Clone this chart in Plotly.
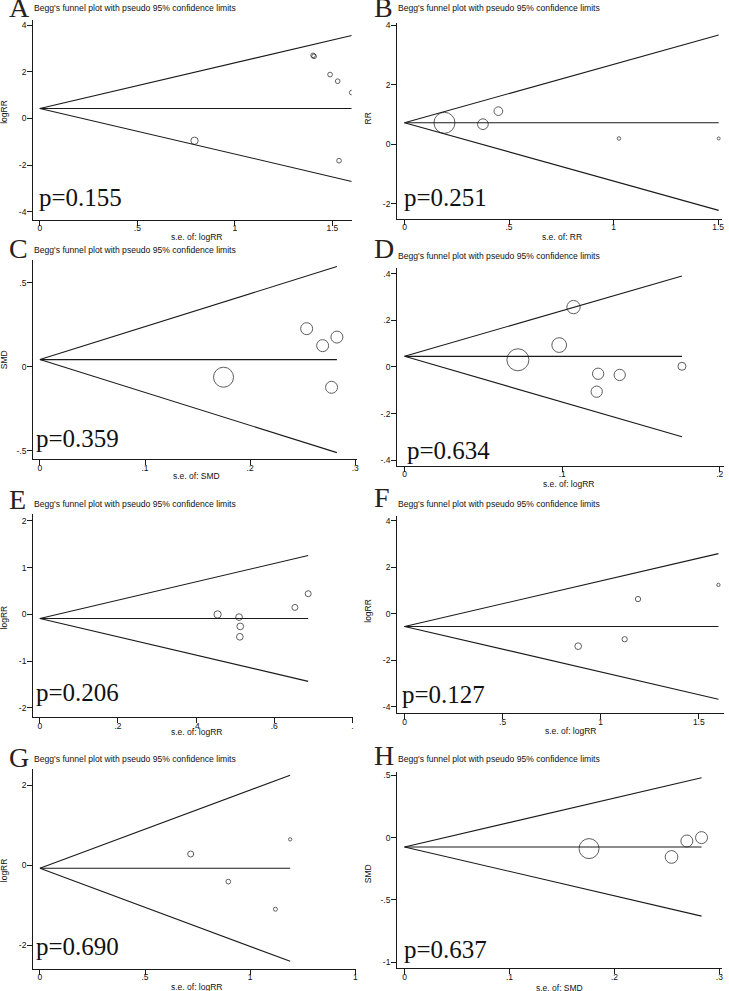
import plotly.graph_objects as go

W, H = 729, 991

# ---------------- data ----------------
panel_letters = ["A", "B", "C", "D", "E", "F", "G", "H"]
p_values = ["p=0.155", "p=0.251", "p=0.359", "p=0.634", "p=0.206", "p=0.127", "p=0.690", "p=0.637"]
y_titles = ["logRR", "RR", "SMD", "", "logRR", "logRR", "logRR", "SMD"]
x_titles = ["s.e. of: logRR", "s.e. of: RR", "s.e. of: SMD", "s.e. of: logRR",
            "s.e. of: logRR", "s.e. of: logRR", "s.e. of: logRR", "s.e. of: SMD"]

# pooled estimates (funnel centre)
pooled = [0.43, 0.73, 0.044, 0.0457, -0.086, -0.55, -0.075, -0.0747]

se_A = [1.401, 1.406, 1.488, 1.527, 1.599, 0.793, 1.534]
est_A = [2.71, 2.67, 1.886, 1.60, 1.114, -0.957, -1.814]
w_A = [4.7, 4.7, 4.7, 4.7, 4.7, 7.3, 4.7]

se_B = [0.191, 0.375, 0.449, 1.026, 1.503]
est_B = [0.726, 0.68, 1.117, 0.20, 0.20]
w_B = [21, 10.7, 8.7, 3.5, 3.0]

se_C = [0.1747, 0.2538, 0.269, 0.2826, 0.2775]
est_C = [-0.061, 0.228, 0.127, 0.178, -0.121]
w_C = [20, 12, 12, 12, 12]

se_D = [0.0719, 0.0981, 0.1072, 0.1228, 0.1219, 0.1365, 0.176]
est_D = [0.031, 0.094, 0.257, -0.029, -0.106, -0.034, 0.003]
w_D = [22, 14.7, 13.3, 11.3, 11.3, 11.3, 8]

se_E = [0.455, 0.51, 0.513, 0.512, 0.653, 0.687]
est_E = [0.0, -0.057, -0.257, -0.479, 0.15, 0.443]
w_E = [7.3, 6.7, 6.7, 6.7, 6.0, 6.0]

se_F = [0.885, 1.122, 1.19, 1.60]
est_F = [-1.40, -1.10, 0.63, 1.24]
w_F = [6.7, 5.3, 5.3, 3.3]

se_G = [0.717, 0.896, 1.12, 1.19]
est_G = [0.283, -0.408, -1.10, 0.65]
w_G = [6.0, 4.7, 4.0, 3.3]

se_H = [0.1758, 0.2544, 0.269, 0.283]
est_H = [-0.088, -0.155, -0.027, 0.0]
w_H = [20, 12.7, 12, 12]

se_all = [se_A, se_B, se_C, se_D, se_E, se_F, se_G, se_H]
est_all = [est_A, est_B, est_C, est_D, est_E, est_F, est_G, est_H]
w_all = [w_A, w_B, w_C, w_D, w_E, w_F, w_G, w_H]

x_ticks = [[0, 0.5, 1, 1.5], [0, 0.5, 1, 1.5], [0, 0.1, 0.2, 0.3], [0, 0.1, 0.2],
           [0, 0.2, 0.4, 0.6, 0.8], [0, 0.5, 1, 1.5], [0, 0.5, 1, 1.5], [0, 0.1, 0.2, 0.3]]
x_ticktext = [["0", ".5", "1", "1.5"], ["0", ".5", "1", "1.5"], ["0", ".1", ".2", ".3"], ["0", ".1", ".2"],
              ["0", ".2", ".4", ".6", "."], ["0", ".5", "1", "1.5"], ["0", ".5", "1", "1"], ["0", ".1", ".2", ".3"]]
y_ticks = [[-4, -2, 0, 2, 4], [-2, 0, 2, 4], [-0.5, 0, 0.5], [-0.4, -0.2, 0, 0.2, 0.4],
           [-2, -1, 0, 1, 2], [-4, -2, 0, 2, 4], [-2, 0, 2], [-1, -0.5, 0, 0.5]]
y_ticktext = [["-4", "-2", "0", "2", "4"], ["-2", "0", "2", "4"], ["-.5", "0", ".5"], ["-.4", "-.2", "0", ".2", ".4"],
              ["-2", "-1", "0", "1", "2"], ["-4", "-2", "0", "2", "4"], ["-2", "0", "2"], ["-1", "-.5", "0", ".5"]]

# ---------------- layout geometry (pixels) ----------------
# (left, right, top, bottom) of each plot region
geom = [
    (33.3, 352.7, 18.3, 218.3),
    (398.3, 724.0, 20.7, 217.3),
    (33.3, 358.3, 259.0, 458.3),
    (398.3, 725.7, 266.7, 465.0),
    (33.3, 353.5, 513.3, 716.7),
    (398.3, 725.7, 515.0, 712.7),
    (33.3, 356.5, 768.3, 969.0),
    (398.3, 724.0, 771.7, 968.3),
]
x_ranges = [[-0.034, 1.599], [-0.035, 1.519], [-0.0064, 0.302], [-0.0047, 0.2025],
            [-0.017, 0.8005], [-0.0376, 1.627], [-0.032, 1.501], [-0.007, 0.3025]]
y_ranges = [[-4.355, 4.218], [-2.5, 4.09], [-0.55, 0.634], [-0.425, 0.424],
            [-2.2, 2.143], [-4.29, 4.21], [-2.6, 2.42], [-1.048, 0.525]]

# text positions (pixels)
title_y = [6, 6, 248.5, 255, 503.3, 503.3, 758.3, 758.3]
letter_base = [16.7, 16.7, 258.3, 258.3, 510, 508.3, 768.3, 766.7]
p_pos = [(40, 205), (406, 205), (37, 446.7), (409, 458.3), (37, 701), (404, 703.3), (37, 955), (406, 958.3)]
xt_pos = [(197.5, 235), (564, 235), (196.7, 475), (570.7, 483.3), (197.7, 731.7), (573, 730), (197.7, 986.7), (561.5, 988.3)]
yt_pos = [(4, 110), (369, 116.7), (4, 358), (372, 370), (4, 616.7), (369, 610), (4, 870), (369, 873)]


def px(x):
    return x / W


def py(y):
    return 1 - y / H


SANS = "Liberation Sans, Arial, sans-serif"
SERIF = "Liberation Serif, Times New Roman, serif"

fig = go.Figure()
layout = dict(
    width=W, height=H, margin=dict(l=0, r=0, t=0, b=0),
    paper_bgcolor="white", plot_bgcolor="white", showlegend=False,
)
annotations = []

for i in range(8):
    k = "" if i == 0 else str(i + 1)
    xa, ya = "x" + k, "y" + k
    L, R, T, B = geom[i]
    th = pooled[i]
    smax = max(se_all[i])
    lx = [0, smax, None, 0, smax, None, 0, smax]
    ly = [th, th + 1.96 * smax, None, th, th, None, th, th - 1.96 * smax]
    fig.add_trace(go.Scatter(x=lx, y=ly, mode="lines", xaxis=xa, yaxis=ya,
                             line=dict(color="#1a1a1a", width=1.1), hoverinfo="skip"))
    fig.add_trace(go.Scatter(x=se_all[i], y=est_all[i], mode="markers", xaxis=xa, yaxis=ya,
                             marker=dict(symbol="circle", size=w_all[i], color="rgba(0,0,0,0)",
                                         line=dict(color="#1a1a1a", width=1.0))))
    common = dict(showgrid=False, zeroline=False, showline=True, linecolor="#1a1a1a", linewidth=1.2,
                  ticks="outside", ticklen=5, tickwidth=1, tickcolor="#1a1a1a",
                  tickfont=dict(family=SANS, size=8.5, color="#111"), fixedrange=True)
    layout["xaxis" + k] = dict(domain=[px(L), px(R)], range=x_ranges[i], anchor=ya,
                               tickmode="array", tickvals=x_ticks[i], ticktext=x_ticktext[i],
                               ticklabelstandoff=-5, **common)
    layout["yaxis" + k] = dict(domain=[py(B), py(T)], range=y_ranges[i], anchor=xa,
                               tickmode="array", tickvals=y_ticks[i], ticktext=y_ticktext[i],
                               ticklabelstandoff=-1, **common)
    colL = 32 if L < 100 else 397
    letter_x = 7 if L < 100 else 373
    annotations.append(dict(x=px(colL), y=py(title_y[i]), xref="paper", yref="paper",
                            xanchor="left", yanchor="middle", showarrow=False,
                            text="Begg's funnel plot with pseudo 95% confidence limits",
                            font=dict(family=SANS, size=8.6, color="#111")))
    annotations.append(dict(x=px(letter_x), y=py(letter_base[i] - 11.5), xref="paper", yref="paper",
                            xanchor="left", yanchor="middle", showarrow=False,
                            text=panel_letters[i], font=dict(family=SERIF, size=28, color="#2a2020")))
    annotations.append(dict(x=px(p_pos[i][0] - 3), y=py(p_pos[i][1] - 9), xref="paper", yref="paper",
                            xanchor="left", yanchor="middle", showarrow=False,
                            text=p_values[i], font=dict(family=SERIF, size=25, color="#111")))
    annotations.append(dict(x=px(xt_pos[i][0]), y=py(xt_pos[i][1]), xref="paper", yref="paper",
                            xanchor="center", yanchor="middle", showarrow=False,
                            text=x_titles[i], font=dict(family=SANS, size=8.5, color="#111")))
    if y_titles[i]:
        annotations.append(dict(x=px(yt_pos[i][0]), y=py(yt_pos[i][1]), xref="paper", yref="paper",
                                xanchor="center", yanchor="middle", showarrow=False, textangle=-90,
                                text=y_titles[i], font=dict(family=SANS, size=8.5, color="#111")))

layout["annotations"] = annotations
fig.update_layout(**layout)
fig.write_html("out.html", config={"displayModeBar": False},
               post_script="document.body.style.margin='0';document.body.style.padding='0';"
                           "document.body.style.overflow='hidden';")
